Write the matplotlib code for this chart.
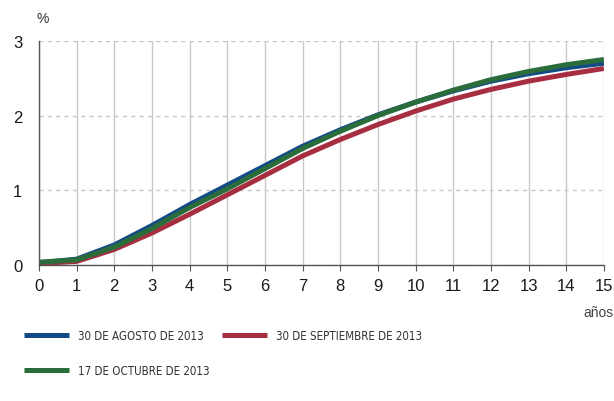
import matplotlib.pyplot as plt
from matplotlib.font_manager import FontProperties

# Curva de tipos forward (%) por plazo en años
plazos = list(range(0, 16))
agosto = [0.03, 0.08, 0.27, 0.53, 0.81, 1.07, 1.33, 1.59, 1.81, 2.01, 2.18, 2.33, 2.46, 2.56, 2.64, 2.70]
septiembre = [0.02, 0.05, 0.21, 0.43, 0.68, 0.94, 1.20, 1.46, 1.68, 1.88, 2.06, 2.22, 2.35, 2.46, 2.55, 2.63]
octubre = [0.04, 0.07, 0.24, 0.49, 0.77, 1.02, 1.29, 1.56, 1.79, 2.00, 2.18, 2.34, 2.48, 2.59, 2.68, 2.75]
etiquetas = ['30 DE AGOSTO DE 2013', '30 DE SEPTIEMBRE DE 2013', '17 DE OCTUBRE DE 2013']
colores = ['#124b86', '#a72e40', '#2a6d3b']

plt.rcParams['font.family'] = ['Liberation Sans', 'DejaVu Sans']

fig = plt.figure(figsize=(6.14, 4.02), dpi=100)
ax = fig.add_axes([0.0635, 0.338, 0.92, 0.558])

series = [agosto, septiembre, octubre]
lineas = []
for valores, etiqueta, color in zip(series, etiquetas, colores):
    l, = ax.plot(plazos, valores, color=color, lw=3.6, label=etiqueta, solid_capstyle='butt')
    lineas.append(l)

ax.set_xlim(0, 15)
ax.set_ylim(0, 3)
ax.set_xticks(range(0, 16))
ax.set_yticks([0, 1, 2, 3])

ax.grid(axis='x', color='#c8c8c8', lw=1, ls='-')
ax.grid(axis='y', color='#c8c8c8', lw=1, ls=(0, (3, 3)))
ax.set_axisbelow(True)

for lado in ['top', 'right']:
    ax.spines[lado].set_visible(False)
for lado in ['left', 'bottom']:
    ax.spines[lado].set_color('#555555')
    ax.spines[lado].set_linewidth(1)

ax.tick_params(axis='x', length=4, color='#555555', labelsize=12, pad=5, labelcolor='#1a1a1a')
ax.tick_params(axis='y', length=0, labelsize=12, pad=12, labelcolor='#1a1a1a')

fig.text(0.060, 0.952, '%', fontsize=10, color='#333333', ha='left', va='center')
fig.text(1.0, 0.222, 'años', fontsize=10, color='#444444', ha='right', va='center')

# leyenda: cada entrada colocada por separado
fuente_leyenda = FontProperties(family=['Liberation Sans Narrow', 'DejaVu Sans'],
                                stretch='condensed', size=8.3)
posiciones = [(0.039, 0.162), (0.3616, 0.162), (0.039, 0.076)]
for linea, etiqueta, (px, py) in zip(lineas, etiquetas, posiciones):
    fig.legend([linea], [etiqueta], loc='center left', bbox_to_anchor=(px, py),
               frameon=False, prop=fuente_leyenda, handlelength=3.9,
               handletextpad=0.75, borderpad=0, borderaxespad=0,
               labelcolor='#333333')

fig.savefig('out.png', dpi=100)
